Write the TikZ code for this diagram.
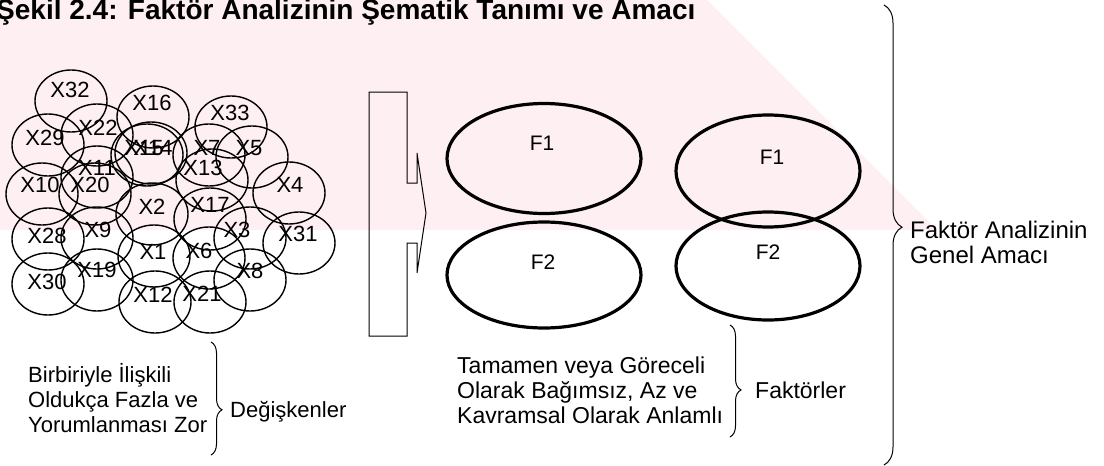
\documentclass[tikz,border=0pt]{standalone}
\usepackage{fontspec}
\setmainfont{Liberation Sans}
\usetikzlibrary{decorations.pathreplacing}
\definecolor{wmpink}{RGB}{253,239,242}
\begin{document}
\begin{tikzpicture}[x=1pt,y=-1pt,
  varc/.style={draw, line width=1.4pt},
  vlab/.style={font=\fontsize{22}{26}\selectfont, inner sep=0pt},
  fac/.style={draw, line width=3.2pt},
  flab/.style={font=\fontsize{21}{25}\selectfont, inner sep=0pt},
  txt/.style={font=\fontsize{22}{26}\selectfont, inner sep=0pt, anchor=base west},
  txtb/.style={txt, font=\fontsize{23}{27}\selectfont},
  txtc/.style={txt, font=\fontsize{24}{28}\selectfont},
  brc/.style={draw, line width=1pt, decorate, decoration={brace, amplitude=#1}},
]
\useasboundingbox (0,0) rectangle (1104,466);
% watermark background
\fill[wmpink] (0,0) -- (707,0) -- (937,230) -- (0,230) -- cycle;

% title
\node[anchor=base west, inner sep=0pt, font=\bfseries\fontsize{28}{32}\selectfont] (title) at (-4,19) {Şekil 2.4: Faktör Analizinin Şematik Tanımı ve Amacı};

% variable circles
\foreach \n/\cx/\cy/\lx/\ly in {
  X32/71/101/70/90, X16/153/117/152/103, X33/231/127/230/113,
  X29/48/145/45/138, X22/97/135/98/128,
  X15/147/155/144/148, X14/151/153/153/148,
  X7/209/155/207/148, X5/252/157/249/148,
  X11/97/177/97/168, X20/95/194/90/185, X13/212/180/203/168,
  X10/42/194/40/185, X4/289/193/290/185,
  X2/152/214/152/207, X17/210/219/210/205,
  X28/48/239/47/236, X9/97/238/98/230, X3/250/238/237/230, X31/299/243/298/234,
  X1/154/256/153/252, X6/209/258/199/251,
  X30/48/284/47/282, X19/97/280/97/270, X12/155/302/153/295,
  X21/210/302/202/294, X8/250/280/250/271}
{
  \draw[varc] (\cx,\cy) ellipse [x radius=36, y radius=31];
  \node[vlab] (l\n) at (\lx,\ly) {\n};
}

% block arrow
\draw[line width=1pt, line join=miter] (369,92) -- (407,92) -- (407,183) -- (417,183) -- (417,153) -- (426,213) -- (417,273) -- (417,243) -- (407,243) -- (407,336) -- (369,336) -- cycle;

% factor ellipses
\draw[fac] (544,158.5) ellipse [x radius=97, y radius=55];
\draw[fac] (544,275) ellipse [x radius=97, y radius=53];
\draw[fac] (768,171) ellipse [x radius=92, y radius=56];
\draw[fac] (768,266) ellipse [x radius=92, y radius=54];
\node[flab] (f1a) at (542,143) {F1};
\node[flab] (f2a) at (543,262) {F2};
\node[flab] (f1b) at (772,157) {F1};
\node[flab] (f2b) at (768,252) {F2};

% left texts
\node[txt] (d1) at (28,382) {Birbiriyle İlişkili};
\node[txt] (d2) at (28,407) {Oldukça Fazla ve};
\node[txt] (d3) at (28,432) {Yorumlanması Zor};
\draw[brc=11, decoration={aspect=0.6}] (211,342) -- (211,455);
\node[txt] (deg) at (230,417) {Değişkenler};

% middle texts
\node[txtb] (r1) at (457,373) {Tamamen veya Göreceli};
\node[txtb] (r2) at (457,398) {Olarak Bağımsız, Az ve};
\node[txtb] (r3) at (457,423) {Kavramsal Olarak Anlamlı};
\draw[brc=11, decoration={aspect=0.58}] (730,325) -- (730,437);
\node[txtb] (fak) at (755,398) {Faktörler};

% big brace
\draw[brc=18, decoration={aspect=0.483}] (884,5) -- (884,465);
\node[txtc] (g1) at (910,238) {Faktör Analizinin};
\node[txtc] (g2) at (910,263) {Genel Amacı};
\end{tikzpicture}
\end{document}
